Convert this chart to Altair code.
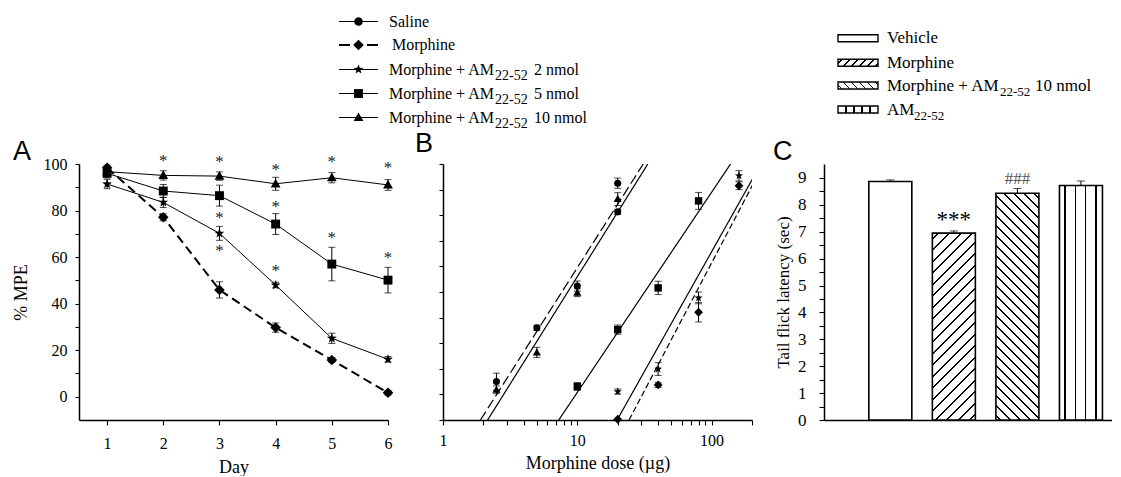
import math
import altair as alt
import pandas as pd

SERIF = "Liberation Serif"
SANS = "Liberation Sans"

# ------------------------------------------------------------------ data
# Panel A: % MPE over six days
A_DAYS = [1, 2, 3, 4, 5, 6]
A_MORPHINE = [98.4, 77.1, 45.9, 29.7, 15.8, 1.7]
A_MORPHINE_SEM = [1.0, 1.5, 3.5, 2.0, 1.0, 1.0]
A_AM2 = [91.4, 83.5, 70.2, 48.0, 25.1, 16.1]
A_AM2_SEM = [2.0, 2.2, 3.0, 1.2, 2.2, 1.2]
A_AM5 = [96.0, 88.4, 86.4, 74.2, 57.0, 50.1]
A_AM5_SEM = [2.0, 2.8, 4.5, 4.5, 7.2, 5.5]
A_AM10 = [96.7, 95.1, 94.8, 91.5, 94.1, 91.0]
A_AM10_SEM = [1.0, 2.0, 1.8, 2.8, 2.2, 2.3]
A_SIG_DAY = [2, 3, 3, 3, 4, 4, 4, 5, 5, 6, 6]
A_SIG_MPE = [102.4, 102.0, 78.1, 63.8, 98.8, 82.7, 55.4, 102.0, 69.5, 99.6, 60.9]
A_TICKS_X = [1, 2, 3, 4, 5, 6]
A_TICKS_Y = [0, 10, 20, 30, 40, 50, 60, 70, 80, 90, 100]

# Panel B: dose-response
B_SALINE_DOSE = [2.5, 5, 10, 20, 20]
B_SALINE = [15.0, 36.0, 52.3, 92.5, 81.3]
B_SALINE_SEM = [3.3, 1.0, 2.0, 2.0, 1.0]
B_AM10_DOSE = [2.5, 5, 10, 20]
B_AM10 = [11.8, 26.4, 49.7, 86.3]
B_AM10_SEM = [1.5, 2.0, 1.5, 2.5]
B_AM5_DOSE = [10, 20, 40, 80]
B_AM5 = [13.1, 35.3, 51.6, 85.6]
B_AM5_SEM = [1.5, 1.8, 2.6, 3.3]
B_AM2_DOSE = [20, 40, 80, 160]
B_AM2 = [11.1, 19.9, 47.7, 95.4]
B_AM2_SEM = [1.0, 2.5, 2.3, 2.0]
B_MORPHINE_DOSE = [20, 40, 80, 160]
B_MORPHINE = [0.3, 13.7, 42.1, 91.5]
B_MORPHINE_SEM = [0.0, 1.0, 3.8, 1.5]
B_FIT_DOSE_AT_0 = [1.9, 2.15, 7.28, 19.8, 24.3]
B_FIT_DOSE_AT_100 = [31.0, 33.5, 138.5, 233.0, 244.0]
B_FIT_STYLE = ["long", "solid", "solid", "solid", "short"]
B_TICKS_X = [1, 2, 3, 4, 5, 6, 7, 8, 9, 10, 20, 30, 40, 50, 60, 70, 80, 90, 100, 200]
B_TICKS_Y = [0, 10, 20, 30, 40, 50, 60, 70, 80, 90, 100]

# Panel C: tail flick latency
C_GROUPS = ["Vehicle", "Morphine", "Morphine + AM22-52 10 nmol", "AM22-52"]
C_LATENCY = [8.87, 6.95, 8.43, 8.72]
C_SEM = [0.06, 0.08, 0.18, 0.17]
C_TICKS_Y = [0, 0.5, 1, 1.5, 2, 2.5, 3, 3.5, 4, 4.5, 5, 5.5, 6, 6.5, 7, 7.5, 8, 8.5, 9]
C_SIG_TEXT = ["***", "###"]
C_SIG_POS = [2, 3]
C_SIG_LATENCY = [7.56, 9.0]

# Legends
SERIES = ["Saline", "Morphine", "AM 2 nmol", "AM 5 nmol", "AM 10 nmol"]
LEG_L_MAIN = ["Saline", "Morphine", "Morphine + AM", "Morphine + AM", "Morphine + AM"]
LEG_L_SUB = ["", "", "22-52", "22-52", "22-52"]
LEG_L_TAIL = ["", "", "2 nmol", "5 nmol", "10 nmol"]
LEG_R_MAIN = ["Vehicle", "Morphine", "Morphine + AM", "AM"]
LEG_R_SUB = ["", "", "22-52", "22-52"]
LEG_R_TAIL = ["", "", "10 nmol", ""]

# ------------------------------------------------------------------ styling helpers
pts = []
for k in range(10):
    ang = math.radians(-90 + 36 * k)
    r = 1.2 if k % 2 == 0 else 0.5
    pts.append(f"{r * math.cos(ang):.3f},{r * math.sin(ang):.3f}")
STAR = "M" + "L".join(pts) + "Z"
DIAMOND = "M-1.25,0L0,-1.25L1.25,0L0,1.25Z"
SQUARE = "M-1.05,-1.05L1.05,-1.05L1.05,1.05L-1.05,1.05Z"
TRIANGLE = "M0,-1.2L1.15,0.85L-1.15,0.85Z"
SHAPES = ["circle", DIAMOND, STAR, SQUARE, TRIANGLE]
SHAPE_SCALE = alt.Scale(domain=SERIES, range=SHAPES)

H = 256
A_W, B_W, C_W = 309, 309, 288
A_ORIGIN = (79, 164)
B_ORIGIN = (443, 164)
C_ORIGIN = (824, 164)
ONE = pd.DataFrame({"k": [0]})


def diag_hatch(W, Hh, period, lw, rising):
    L = W + Hh
    k = L / (W * W + Hh * Hh)
    gx, gy = W * k, Hh * k
    if rising:
        x1, y1, x2, y2 = 0, 0, gx, gy
    else:
        x1, y1, x2, y2 = 0, 1, gx, 1 - gy
    half = lw * math.sqrt(2) / 2
    stops = [{"offset": 0, "color": "white"}]
    c = period / 2
    while c + half < L:
        a, b = round((c - half) / L, 5), round((c + half) / L, 5)
        stops += [{"offset": a, "color": "white"}, {"offset": a, "color": "black"},
                  {"offset": b, "color": "black"}, {"offset": b, "color": "white"}]
        c += period
    stops.append({"offset": 1, "color": "white"})
    return {"gradient": "linear", "x1": x1, "y1": y1, "x2": x2, "y2": y2, "stops": stops}


def vstripes(fracs, lwf):
    stops = [{"offset": 0, "color": "white"}]
    for f in fracs:
        a, b = round(f - lwf / 2, 5), round(f + lwf / 2, 5)
        stops += [{"offset": a, "color": "white"}, {"offset": a, "color": "black"},
                  {"offset": b, "color": "black"}, {"offset": b, "color": "white"}]
    stops.append({"offset": 1, "color": "white"})
    return {"gradient": "linear", "x1": 0, "y1": 0, "x2": 1, "y2": 0, "stops": stops}


def txt(text, px, py, origin, size, font=SERIF, color="black", align="left", baseline="alphabetic"):
    return alt.Chart(ONE).mark_text(text=text, font=font, fontSize=size, color=color,
                                    align=align, baseline=baseline).encode(
        x=alt.value(px - origin[0]), y=alt.value(py - origin[1]))


# ------------------------------------------------------------------ Panel A
rows = []
for name, vals, errs in [("Morphine", A_MORPHINE, A_MORPHINE_SEM), ("AM 2 nmol", A_AM2, A_AM2_SEM),
                         ("AM 5 nmol", A_AM5, A_AM5_SEM), ("AM 10 nmol", A_AM10, A_AM10_SEM)]:
    for d, v, e in zip(A_DAYS, vals, errs):
        rows.append({"series": name, "x": d, "y": v, "lo": v - e, "hi": v + e})
dfA = pd.DataFrame(rows)
dfAsig = pd.DataFrame({"x": A_SIG_DAY, "y": A_SIG_MPE})

X_A = alt.X("x:Q", scale=alt.Scale(domain=[0.5, 6], nice=False, zero=False),
            axis=alt.Axis(values=A_TICKS_X, title="Day", labelPadding=10, labelFlush=False,
                          tickSize=5, titlePadding=7, titleFontSize=18))


def Y_A(field):
    return alt.Y(field, scale=alt.Scale(domain=[-10, 100], nice=False, zero=False),
                 axis=alt.Axis(values=A_TICKS_Y, labelExpr="datum.value % 20 === 0 ? datum.label : ''",
                               labelOverlap=False, tickSize=4, labelPadding=8, title="% MPE",
                               titlePadding=13, titleFontSize=18))


layersA = [
    alt.Chart(dfA).transform_filter(alt.datum.series != "Morphine").mark_line(
        color="black", strokeWidth=1).encode(x=X_A, y=Y_A("y:Q"), detail="series:N", order="x:Q"),
    alt.Chart(dfA).transform_filter(alt.datum.series == "Morphine").mark_line(
        color="black", strokeWidth=2, strokeDash=[9, 5]).encode(x=X_A, y=Y_A("y:Q"), order="x:Q"),
    alt.Chart(dfA).mark_rule(color="black", strokeWidth=1).encode(x=X_A, y=Y_A("lo:Q"), y2="hi:Q"),
    alt.Chart(dfA).transform_fold(["lo", "hi"], as_=["which", "cap"]).mark_tick(
        orient="horizontal", size=7, thickness=1, color="black").encode(x=X_A, y=Y_A("cap:Q")),
    alt.Chart(dfA).mark_point(filled=True, opacity=1, color="black", size=72).encode(
        x=X_A, y=Y_A("y:Q"), shape=alt.Shape("series:N", scale=SHAPE_SCALE, legend=None)),
    alt.Chart(dfAsig).mark_text(text="*", fontSize=17, baseline="middle", dy=3, color="#222222").encode(
        x=X_A, y=Y_A("y:Q")),
    txt("A", 13, 160, A_ORIGIN, 27, font=SANS),
    # anchor for page layout (top-left corner of the figure)
    alt.Chart(ONE).mark_rect(opacity=0).encode(
        x=alt.value(8 - A_ORIGIN[0]), x2=alt.value(8 - A_ORIGIN[0]),
        y=alt.value(8 - A_ORIGIN[1]), y2=alt.value(8 - A_ORIGIN[1])),
]

# left legend (drawn in panel A's layer)
LEG_L_Y = [21.5, 45, 69.5, 93.5, 117.5]
for i, name in enumerate(SERIES):
    ry = LEG_L_Y[i] - A_ORIGIN[1]
    dashed = name == "Morphine"
    layersA.append(alt.Chart(ONE).mark_rule(
        color="black", strokeWidth=2 if dashed else 1, strokeDash=[11, 17] if dashed else [1, 0]).encode(
        x=alt.value(339 - A_ORIGIN[0]), x2=alt.value(378 - A_ORIGIN[0]), y=alt.value(ry)))
    layersA.append(alt.Chart(ONE).mark_point(
        shape=SHAPES[i], filled=True, opacity=1, color="black", size=72).encode(
        x=alt.value(358.5 - A_ORIGIN[0]), y=alt.value(ry)))
    layersA.append(txt(LEG_L_MAIN[i], 392 if dashed else 389, LEG_L_Y[i] + 5, A_ORIGIN, 16))
    if LEG_L_SUB[i]:
        layersA.append(txt(LEG_L_SUB[i], 495, LEG_L_Y[i] + 10, A_ORIGIN, 14))
        layersA.append(txt(LEG_L_TAIL[i], 534, LEG_L_Y[i] + 5, A_ORIGIN, 16))

panelA = alt.layer(*layersA).properties(width=A_W, height=H)

# ------------------------------------------------------------------ Panel B
rows = []
for name, doses, vals, errs in [("Saline", B_SALINE_DOSE, B_SALINE, B_SALINE_SEM),
                                ("AM 10 nmol", B_AM10_DOSE, B_AM10, B_AM10_SEM),
                                ("AM 5 nmol", B_AM5_DOSE, B_AM5, B_AM5_SEM),
                                ("AM 2 nmol", B_AM2_DOSE, B_AM2, B_AM2_SEM),
                                ("Morphine", B_MORPHINE_DOSE, B_MORPHINE, B_MORPHINE_SEM)]:
    for d, v, e in zip(doses, vals, errs):
        rows.append({"series": name, "x": d, "y": v, "lo": v - e, "hi": v + e})
dfB = pd.DataFrame(rows)
fit_rows = []
for i, (d0, d1, st) in enumerate(zip(B_FIT_DOSE_AT_0, B_FIT_DOSE_AT_100, B_FIT_STYLE)):
    fit_rows.append({"fit": i, "style": st, "x": d0, "y": 0})
    fit_rows.append({"fit": i, "style": st, "x": d1, "y": 100})
dfFit = pd.DataFrame(fit_rows)

X_B = alt.X("x:Q", scale=alt.Scale(type="log", domain=[1, 200], nice=False),
            axis=alt.Axis(values=B_TICKS_X,
                          labelExpr="datum.value === 1 ? '1' : datum.value === 10 ? '10' : datum.value === 100 ? '100' : ''",
                          labelOverlap=False, labelFlush=False, title="Morphine dose (µg)",
                          labelPadding=7, tickSize=5, titleFontSize=18, titlePadding=6))


def Y_B(field):
    return alt.Y(field, scale=alt.Scale(domain=[0, 100], nice=False, zero=False),
                 axis=alt.Axis(values=B_TICKS_Y, labels=False, tickSize=4, title=None))


layersB = [
    alt.Chart(dfFit).mark_line(color="black", strokeWidth=1.2, clip=True).encode(
        x=X_B, y=Y_B("y:Q"), detail="fit:N",
        strokeDash=alt.StrokeDash("style:N", scale=alt.Scale(domain=["long", "solid", "short"],
                                                            range=[[10, 4], [1, 0], [6, 3]]), legend=None)),
    alt.Chart(dfB).mark_rule(color="black", strokeWidth=1).encode(x=X_B, y=Y_B("lo:Q"), y2="hi:Q"),
    alt.Chart(dfB).transform_fold(["lo", "hi"], as_=["which", "cap"]).mark_tick(
        orient="horizontal", size=7, thickness=1, color="black").encode(x=X_B, y=Y_B("cap:Q")),
    alt.Chart(dfB).mark_point(filled=True, opacity=1, color="black", size=50).encode(
        x=X_B, y=Y_B("y:Q"), shape=alt.Shape("series:N", scale=SHAPE_SCALE, legend=None)),
    txt("B", 415, 152, B_ORIGIN, 27, font=SANS),
]
panelB = alt.layer(*layersB).properties(width=B_W, height=H)

# ------------------------------------------------------------------ Panel C
C_MAX = 9.52
dfC = pd.DataFrame({"group": C_GROUPS, "pos": list(range(1, len(C_GROUPS) + 1)), "val": C_LATENCY,
                    "hi": [v + e for v, e in zip(C_LATENCY, C_SEM)]})
dfCsig = pd.DataFrame({"text": C_SIG_TEXT, "pos": C_SIG_POS, "val": C_SIG_LATENCY})

X_C = alt.X("pos:Q", scale=alt.Scale(domain=[0.035, 4.41], nice=False, zero=False),
            axis=alt.Axis(labels=False, ticks=False, title=None))


def Y_C(field):
    return alt.Y(field, scale=alt.Scale(domain=[0, C_MAX], nice=False, zero=False),
                 axis=alt.Axis(values=C_TICKS_Y,
                               labelExpr="datum.value % 1 === 0 ? format(datum.value, 'd') : ''",
                               labelOverlap=False, labelFontSize=17, labelPadding=13, tickSize=5,
                               title="Tail flick latency (sec)", titleFontSize=17, titlePadding=5))


BAR_W = 43
bar_h = [v / C_MAX * H for v in C_LATENCY]
C_FILLS = ["white",
           diag_hatch(BAR_W, bar_h[1], 11.5, 1.3, True),
           diag_hatch(BAR_W, bar_h[2], 10, 1.3, False),
           vstripes([0.13, 0.37, 0.61, 0.85], 1.6 / BAR_W)]

layersC = []
for i in range(len(C_GROUPS)):
    layersC.append(alt.Chart(dfC).transform_filter(alt.datum.pos == i + 1).mark_bar(
        orient="vertical", size=BAR_W, stroke="black", strokeWidth=1.6, fill=C_FILLS[i]).encode(
        x=X_C, y=Y_C("val:Q")))
layersC += [
    alt.Chart(dfC).mark_rule(color="black", strokeWidth=1).encode(x=X_C, y=Y_C("val:Q"), y2="hi:Q"),
    alt.Chart(dfC).mark_tick(orient="horizontal", size=8, thickness=1, color="black").encode(
        x=X_C, y=Y_C("hi:Q")),
    alt.Chart(dfCsig).transform_filter(alt.datum.text == "***").mark_text(
        fontSize=23, baseline="middle", dy=3.5, color="black").encode(x=X_C, y=Y_C("val:Q"), text="text:N"),
    alt.Chart(dfCsig).transform_filter(alt.datum.text == "###").mark_text(
        fontSize=17, baseline="middle", dy=1, color="#555555").encode(x=X_C, y=Y_C("val:Q"), text="text:N"),
    txt("C", 773, 159.5, C_ORIGIN, 27, font=SANS),
]

# right legend (drawn in panel C's layer)
LEG_R_Y = [38.3, 62.7, 85.5, 109.5]
SW_W, SW_H = 40, 7
LEG_R_FILLS = ["white",
               diag_hatch(SW_W, SW_H, 8, 1.2, True),
               diag_hatch(SW_W, SW_H, 8, 1.2, False),
               vstripes([0.2, 0.4, 0.6, 0.8], 1.4 / SW_W)]
for i in range(len(LEG_R_MAIN)):
    ry = LEG_R_Y[i]
    layersC.append(alt.Chart(ONE).mark_rect(fill=LEG_R_FILLS[i], stroke="black", strokeWidth=1.4).encode(
        x=alt.value(838 - C_ORIGIN[0]), x2=alt.value(838 + SW_W - C_ORIGIN[0]),
        y=alt.value(ry - SW_H / 2 - C_ORIGIN[1]), y2=alt.value(ry + SW_H / 2 - C_ORIGIN[1])))
    layersC.append(txt(LEG_R_MAIN[i], 887, ry + 5, C_ORIGIN, 17))
    if LEG_R_SUB[i]:
        sub_x = 1000 if LEG_R_TAIL[i] else 914
        layersC.append(txt(LEG_R_SUB[i], sub_x, ry + 10.5, C_ORIGIN, 13))
    if LEG_R_TAIL[i]:
        layersC.append(txt(LEG_R_TAIL[i], 1035, ry + 5, C_ORIGIN, 17))

panelC = alt.layer(*layersC).properties(width=C_W, height=H)


def spacer(w):
    return alt.Chart(ONE).mark_point(opacity=0).encode(x=alt.value(0), y=alt.value(0)).properties(
        width=w, height=H)


chart = alt.hconcat(panelA, spacer(15), panelB, spacer(32), panelC, spacing=20, bounds="flush").properties(
    padding=0
).configure(font=SERIF).configure_view(stroke=None).configure_axis(
    domainColor="black", domainWidth=1.5, tickColor="black", tickWidth=1.1,
    labelColor="black", titleColor="black", labelFont=SERIF, titleFont=SERIF,
    titleFontWeight="normal", labelFontSize=16, titleFontSize=18, grid=False)

chart.save("out.html", embed_options={"renderer": "svg", "actions": False})
